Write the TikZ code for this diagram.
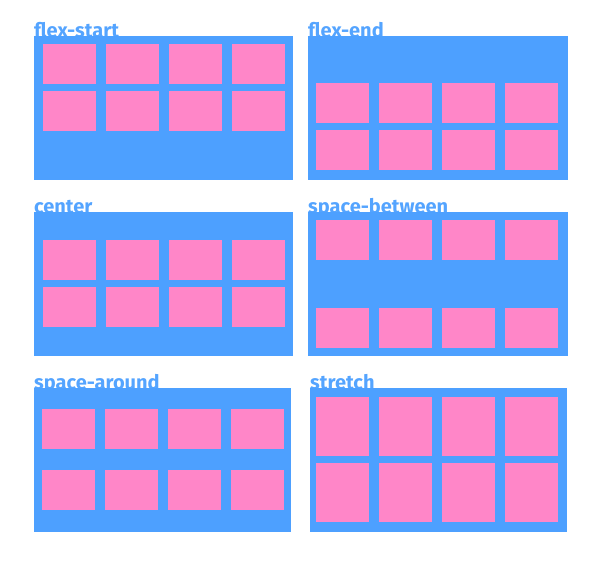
\documentclass[tikz,border=0pt]{standalone}
\usepackage{fontspec}
\newfontfamily\titlefont{Fira Sans}
\definecolor{boxblue}{RGB}{77,160,255}
\definecolor{itempink}{RGB}{255,134,200}
\definecolor{titleblue}{RGB}{84,164,255}
\tikzset{
  panel/.style={fill=boxblue, draw=none, inner sep=0pt, anchor=north west},
  item/.style={fill=itempink, draw=none, inner sep=0pt, anchor=north west, minimum width=53pt, minimum height=40pt},
  tallitem/.style={item, minimum height=59pt},
  paneltitle/.style={anchor=base west, inner sep=0pt, text=titleblue, font=\titlefont\bfseries\fontsize{20}{22}\selectfont}
}
\begin{document}
\begin{tikzpicture}[x=1pt,y=-1pt]
\useasboundingbox (0,0) rectangle (600,568);
% titles (drawn first, panels overlap their lower edge)
\node[paneltitle] (t1) at (34,37) {flex-start};
\node[paneltitle] (t2) at (308,37) {flex-end};
\node[paneltitle] (t3) at (34,213) {center};
\node[paneltitle] (t4) at (308,213) {space-between};
\node[paneltitle] (t5) at (34,389) {space-around};
\node[paneltitle] (t6) at (310,389) {stretch};
% panels
\node[panel, minimum width=259pt, minimum height=143.5pt] (p1) at (34,36) {};
\node[panel, minimum width=259.5pt, minimum height=143.5pt] (p2) at (308,36) {};
\node[panel, minimum width=259pt, minimum height=143.5pt] (p3) at (34,212) {};
\node[panel, minimum width=259.5pt, minimum height=143.5pt] (p4) at (308,212) {};
\node[panel, minimum width=256.7pt, minimum height=143.7pt] (p5) at (34,388) {};
\node[panel, minimum width=256.7pt, minimum height=143.7pt] (p6) at (310,388) {};
% items
\foreach \i/\x in {1/42.7,2/106,3/169,4/232}{
  \node[item] (a\i) at (\x,44) {};
  \node[item] (b\i) at (\x,90.7) {};
  \node[item] (e\i) at (\x,240) {};
  \node[item] (f\i) at (\x,287) {};
}
\foreach \i/\x in {1/316,2/379,3/442,4/505}{
  \node[item] (c\i) at (\x,82.7) {};
  \node[item] (d\i) at (\x,129.3) {};
  \node[item] (g\i) at (\x,220) {};
  \node[item] (h\i) at (\x,307.7) {};
  \node[tallitem] (k\i) at (\x,397) {};
  \node[tallitem] (l\i) at (\x,463) {};
}
\foreach \i/\x in {1/42,2/105,3/168,4/231}{
  \node[item] (i\i) at (\x,409) {};
  \node[item] (j\i) at (\x,469.3) {};
}
\end{tikzpicture}
\end{document}
